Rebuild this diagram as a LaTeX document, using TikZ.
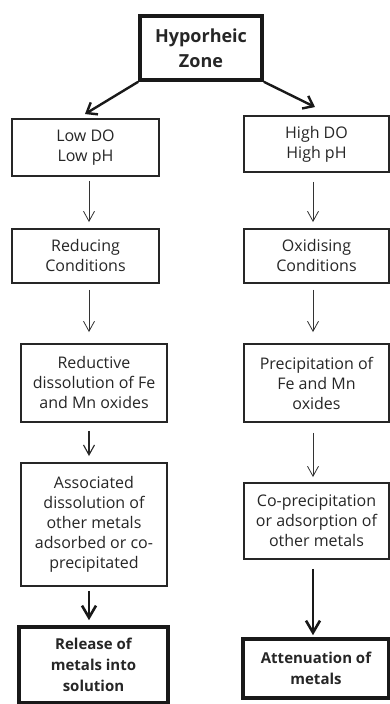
\documentclass[tikz,border=0pt]{standalone}
\usepackage{fontspec}
\setmainfont{Open Sans}
\usetikzlibrary{arrows.meta}
\begin{document}
\begin{tikzpicture}[x=1pt,y=1pt,
  box/.style={draw=black!85, line width=1.9pt, align=center, inner sep=0pt,
    font=\fontsize{16}{20}\selectfont, text=black!85},
  bigbox/.style={draw=black!90, line width=3.6pt, align=center, inner sep=0pt,
    font=\fontsize{15}{21}\selectfont\bfseries, text=black!85},
  thinarrow/.style={draw=black!80, line width=0.8pt, -{Straight Barb[length=10pt,width=11pt,line width=0.8pt]}},
  midarrow/.style={draw=black!85, line width=1.1pt, -{Straight Barb[length=10pt,width=11pt,line width=1.1pt]}},
  thickarrow/.style={draw=black!90, line width=2.6pt, -{Straight Barb[length=12pt,width=14pt,line width=2.6pt]}},
  slantarrow/.style={draw=black!90, line width=2.4pt, -{Straight Barb[length=9pt,width=14pt,line width=2.4pt]}}
]
\useasboundingbox (0,0) rectangle (390,704);
\fill[white] (0,0) rectangle (390,704);
% nodes (y = 704 - pixel y)
\node[bigbox, minimum width=122, minimum height=64, font=\fontsize{18}{25}\selectfont\bfseries] (hypo) at (201,656) {Hyporheic\\Zone};
\node[box, minimum width=147, minimum height=57] (lowdo) at (85.5,556.5) {Low DO\\Low pH};
\node[box, minimum width=145, minimum height=56] (highdo) at (316.5,560) {High DO\\High pH};
\node[box, minimum width=147, minimum height=54] (reducing) at (85.5,448) {Reducing\\Conditions};
\node[box, minimum width=145, minimum height=54] (oxidising) at (316.5,448) {Oxidising\\Conditions};
\node[box, minimum width=146, minimum height=78] (reductive) at (94,321) {Reductive\\dissolution of Fe\\and Mn oxides};
\node[box, minimum width=145, minimum height=78] (precip) at (316.5,321) {Precipitation of\\Fe and Mn\\oxides};
\node[box, minimum width=146, minimum height=123] (assoc) at (94,179.5) {Associated\\dissolution of\\other metals\\adsorbed or co-\\precipitated};
\node[box, minimum width=145, minimum height=76] (coprecip) at (316.5,183) {Co-precipitation\\or adsorption of\\other metals};
\node[bigbox, minimum width=149, minimum height=76] (release) at (93.5,39) {Release of\\metals into\\solution};
\node[bigbox, minimum width=146, minimum height=59] (atten) at (316,35.5) {Attenuation of\\metals};
% connectors
\draw[slantarrow] (hypo.south west) -- ([xshift=-0.5pt,yshift=4pt]lowdo.north);
\draw[slantarrow] (hypo.south east) -- ([xshift=-1.5pt,yshift=8pt]highdo.north);
\draw[thinarrow] ([xshift=3.5pt,yshift=-4pt]lowdo.south) -- ([xshift=3.5pt,yshift=6pt]reducing.north);
\draw[thinarrow] ([xshift=-3.5pt,yshift=-9pt]highdo.south) -- ([xshift=-3.5pt,yshift=6pt]oxidising.north);
\draw[thinarrow] ([xshift=3.5pt,yshift=-6pt]reducing.south) -- ([xshift=-5pt,yshift=11pt]reductive.north);
\draw[thinarrow] ([xshift=-3.5pt,yshift=-6pt]oxidising.south) -- ([xshift=-3.5pt,yshift=11pt]precip.north);
\draw[midarrow] ([xshift=-5pt,yshift=-8pt]reductive.south) -- ([xshift=-5pt,yshift=6pt]assoc.north);
\draw[thinarrow] ([xshift=-3.5pt,yshift=-10pt]precip.south) -- ([xshift=-3.5pt,yshift=5pt]coprecip.north);
\draw[thickarrow] ([xshift=-5pt,yshift=-4pt]assoc.south) -- ([xshift=-4.5pt,yshift=5pt]release.north);
\draw[thickarrow] ([xshift=-3.5pt,yshift=-9pt]coprecip.south) -- ([xshift=-3pt,yshift=2pt]atten.north);
\end{tikzpicture}
\end{document}
